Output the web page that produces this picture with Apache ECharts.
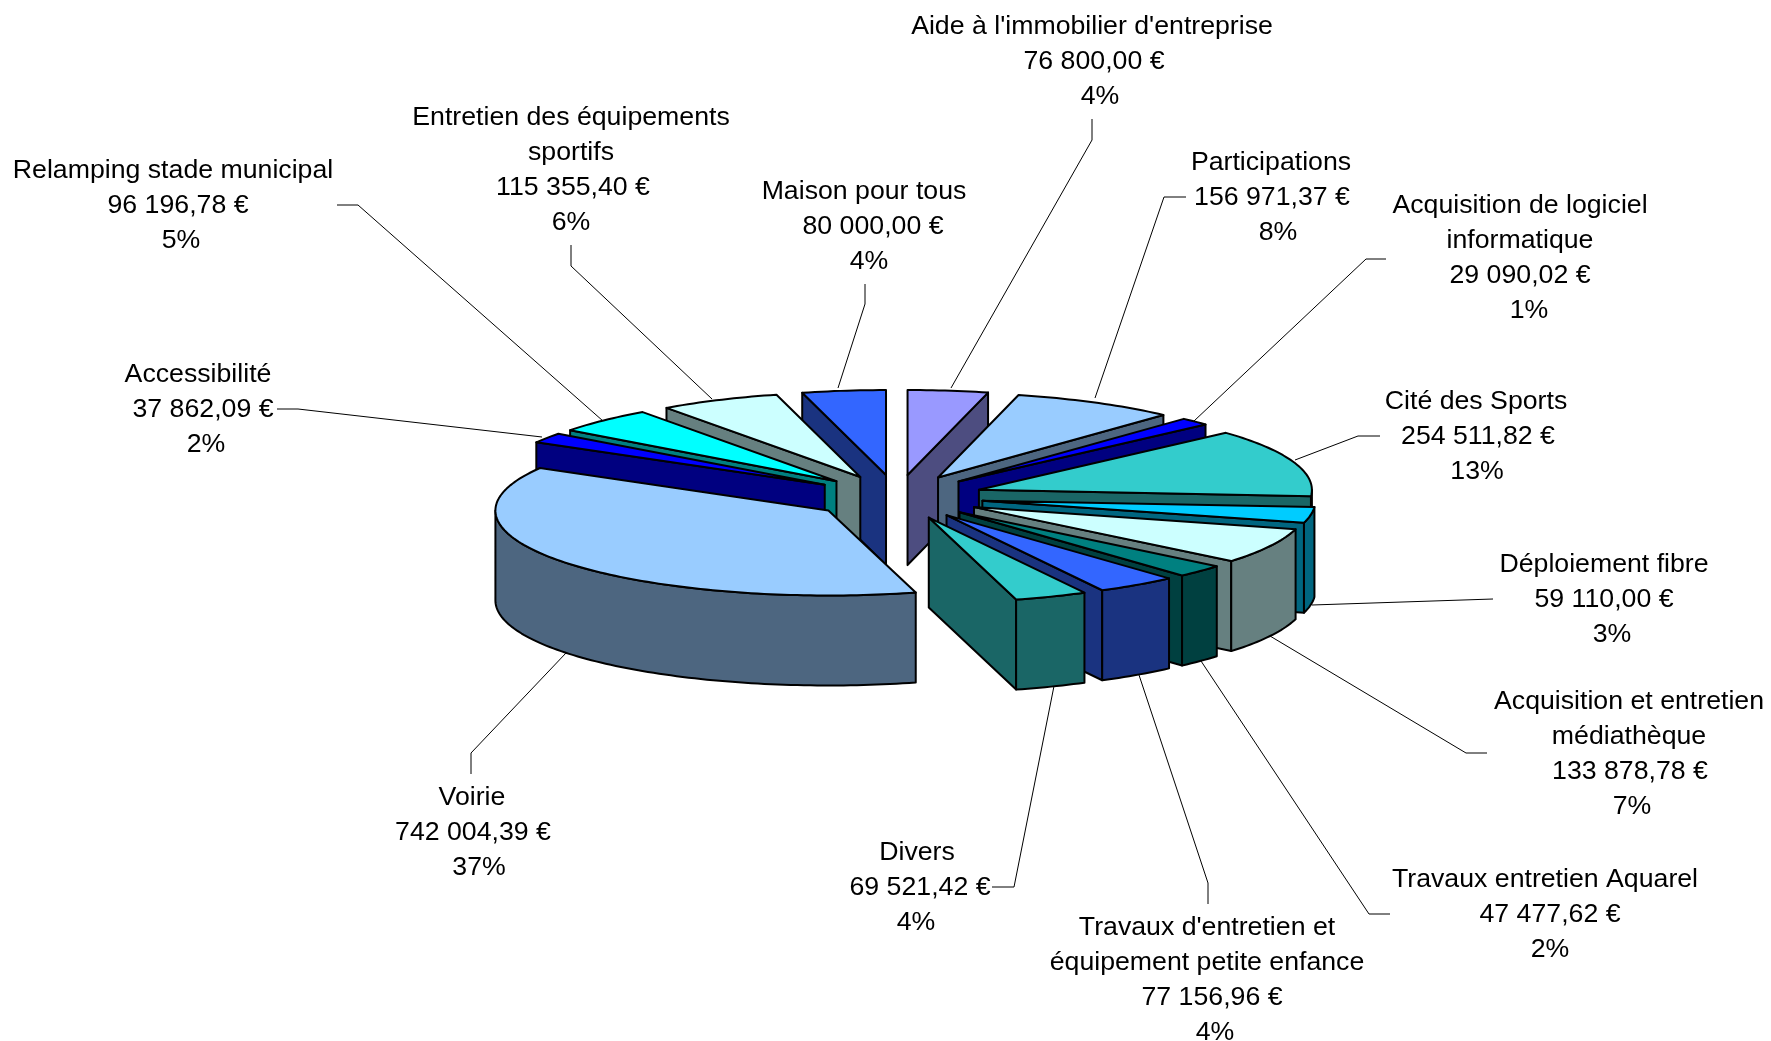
<!DOCTYPE html>
<html>
<head>
<meta charset="utf-8">
<style>
  html, body { margin: 0; background: #fff; }
  #chart { width: 1771px; height: 1041px; }
</style>
<script src="https://cdn.jsdelivr.net/npm/echarts@6/dist/echarts.min.js"></script>
</head>
<body>
<div id="chart"></div>
<script>
// values, clockwise from 12 o'clock
const categories = [
  "Aide à l'immobilier d'entreprise", 'Participations', 'Acquisition de logiciel\ninformatique',
  'Cité des Sports', 'Déploiement fibre', 'Acquisition et entretien\nmédiathèque',
  'Travaux entretien Aquarel', "Travaux d'entretien et\néquipement petite enfance", 'Divers',
  'Voirie', 'Accessibilité', 'Relamping stade municipal',
  'Entretien des équipements\nsportifs', 'Maison pour tous'
];
const amounts = [
  76800.00, 156971.37, 29090.02, 254511.82, 59110.00, 133878.78, 47477.62,
  77156.96, 69521.42, 742004.39, 37862.09, 96196.78, 115355.40, 80000.00
];
const amountLabels = [
  '76 800,00 €', '156 971,37 €', '29 090,02 €', '254 511,82 €', '59 110,00 €', '133 878,78 €', '47 477,62 €',
  '77 156,96 €', '69 521,42 €', '742 004,39 €', '37 862,09 €', '96 196,78 €', '115 355,40 €', '80 000,00 €'
];
const percents = [4, 8, 1, 13, 3, 7, 2, 4, 4, 37, 2, 5, 6, 4];
const topColors = [
  '#9999FF', '#99CCFF', '#0000FF', '#33CCCC', '#00CCFF', '#CCFFFF', '#008080',
  '#3366FF', '#33CCCC', '#99CCFF', '#0000FF', '#00FFFF', '#CCFFFF', '#3366FF'
];
const wallColors = [
  '#4D4D80', '#4D6680', '#000080', '#1A6666', '#006680', '#668080', '#004040',
  '#1A3380', '#1A6666', '#4D6680', '#000080', '#008080', '#668080', '#1A3380'
];

// label centre per slice, the small shift of its two last lines, and the leader line
const labelPos = [
  [1092, 62], [1271, 198], [1520, 258], [1476, 437], [1604, 600], [1629, 754], [1545, 915],
  [1207, 980], [917, 888], [472, 833], [198, 410], [173, 206], [571, 170], [864, 227]
];
const valueShift = [2, 1, 0, 2, 0, 1, 5, 5, 3, 1, 5, 5, 2, 9];
const percentShift = [8, 7, 9, 1, 8, 3, 5, 8, -1, 7, 8, 8, 0, 5];
const leaders = [
  [[1092, 119], [1092, 140], [951, 388]],
  [[1186, 197], [1164, 197], [1095, 398]],
  [[1386, 259], [1366, 259], [1194, 421]],
  [[1380, 436], [1358, 436], [1295, 460]],
  [[1493, 599], [1312, 605]],
  [[1487, 753], [1466, 753], [1270, 636]],
  [[1390, 914], [1369, 914], [1201, 661]],
  [[1208, 904], [1208, 883], [1139, 675]],
  [[992, 887], [1014, 887], [1054, 686]],
  [[471, 774], [471, 753], [566, 653]],
  [[277, 409], [298, 409], [542, 437]],
  [[337, 205], [358, 205], [603, 421]],
  [[571, 245], [571, 266], [712, 399]],
  [[865, 284], [865, 304], [838, 388]]
];

// projection of the tilted pie
const cx = 897, cy = 497, rx = 333, ry = 85, depth = 90, explode = 0.26;
const lineH = 35;
const labelFont = '26.7px "Liberation Sans", Arial, sans-serif';

const total = amounts.reduce((a, b) => a + b, 0);
let run = 0;
const slices = amounts.map((v, i) => {
  const a0 = run / total * 2 * Math.PI;
  run += v;
  const a1 = run / total * 2 * Math.PI;
  return { i, a0, a1, mid: (a0 + a1) / 2 };
});
// back slices first, so the front ones paint over them
const drawOrder = slices.slice().sort((p, q) => Math.cos(q.mid) - Math.cos(p.mid));

function wall(points, fill) {
  return {
    type: 'polygon',
    shape: { points },
    style: { fill, stroke: '#000', lineWidth: 2, lineJoin: 'round' }
  };
}

function renderSlice(params, api) {
  const s = slices[api.value(0)];
  const ox = cx + explode * rx * Math.sin(s.mid);
  const oy = cy - explode * ry * Math.cos(s.mid);
  const at = (t, h) => [ox + rx * Math.sin(t), oy - ry * Math.cos(t) + h];
  const apex = h => [ox, oy + h];
  const dark = wallColors[s.i];
  const children = [];

  // radial walls, only the ones turned towards the viewer
  if (Math.sin(s.a0) < 0) {
    children.push(wall([apex(0), at(s.a0, 0), at(s.a0, depth), apex(depth)], dark));
  }
  if (Math.sin(s.a1) > 0) {
    children.push(wall([apex(0), at(s.a1, 0), at(s.a1, depth), apex(depth)], dark));
  }

  // outer rim, front half only
  const from = Math.max(s.a0, Math.PI / 2), to = Math.min(s.a1, Math.PI * 1.5);
  if (to > from) {
    const upper = [], lower = [];
    const steps = Math.ceil((to - from) / 0.02);
    for (let k = 0; k <= steps; k++) {
      const t = from + (to - from) * k / steps;
      upper.push(at(t, 0));
      lower.unshift(at(t, depth));
    }
    children.push(wall(upper.concat(lower), dark));
  }

  // top face
  const top = [apex(0)];
  const n = Math.ceil((s.a1 - s.a0) / 0.02);
  for (let k = 0; k <= n; k++) top.push(at(s.a0 + (s.a1 - s.a0) * k / n, 0));
  children.push(wall(top, topColors[s.i]));

  return { type: 'group', children };
}

function textLine(text, x, y) {
  return {
    type: 'text',
    style: { x, y, text, align: 'center', verticalAlign: 'middle', fill: '#000', font: labelFont }
  };
}

function renderLabel(params, api) {
  const i = api.value(0);
  const names = categories[i].split('\n');
  const x = labelPos[i][0];
  const y0 = labelPos[i][1] - lineH * (names.length + 1) / 2;
  const children = [{
    type: 'polyline',
    shape: { points: leaders[i] },
    style: { fill: null, stroke: '#000', lineWidth: 1 }
  }];
  names.forEach((name, k) => children.push(textLine(name, x, y0 + lineH * k)));
  children.push(textLine(amountLabels[i], x + valueShift[i], y0 + lineH * names.length));
  children.push(textLine(percents[i] + '%', x + percentShift[i], y0 + lineH * (names.length + 1)));
  return { type: 'group', children };
}

const chart = echarts.init(document.getElementById('chart'), null, { renderer: 'canvas' });
chart.setOption({
  animation: false,
  backgroundColor: '#fff',
  series: [
    {
      type: 'custom',
      coordinateSystem: 'none',
      renderItem: renderLabel,
      data: amounts.map((v, i) => [i, v]),
      silent: true,
      z: 1
    },
    {
      type: 'custom',
      coordinateSystem: 'none',
      renderItem: renderSlice,
      data: drawOrder.map(s => [s.i, amounts[s.i]]),
      silent: true,
      z: 2
    }
  ]
});
</script>
</body>
</html>
